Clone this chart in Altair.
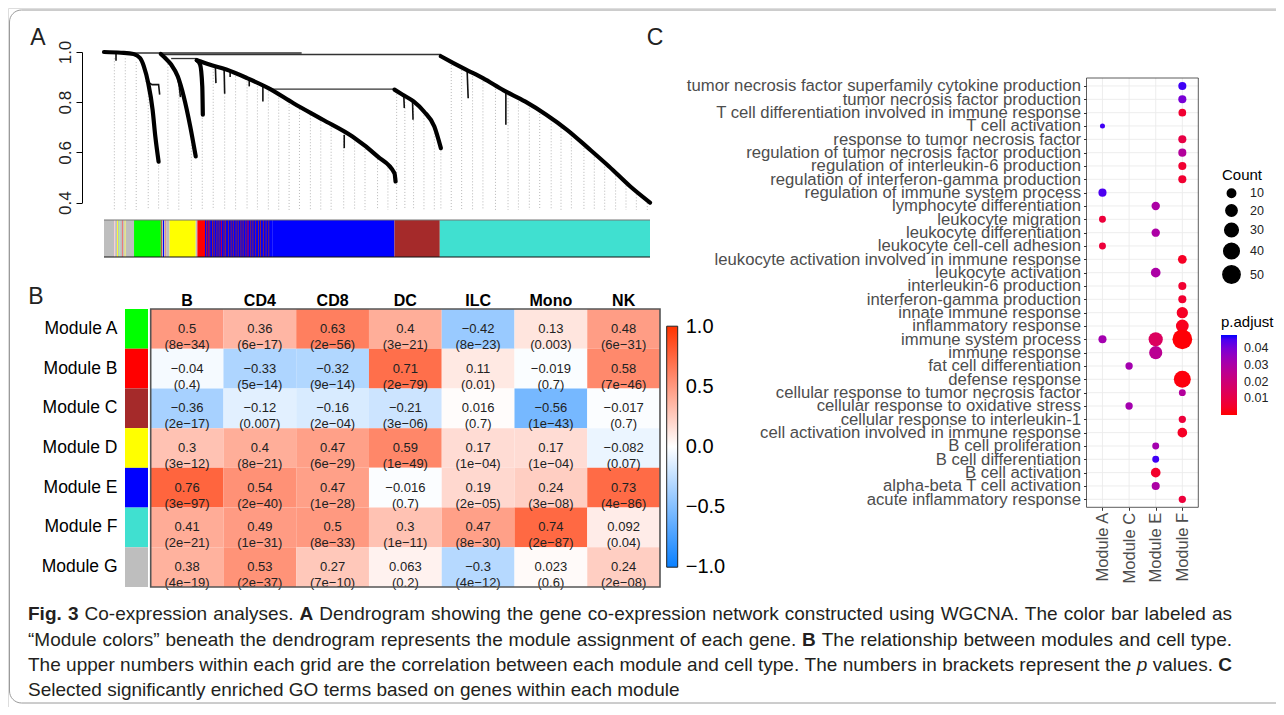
import altair as alt
import pandas as pd

OFF = 8
W, H = 1268, 699
FONT = "Liberation Sans"


def P(v):
    return v - OFF


# ---------------- Panel A: dendrogram (leaf order 0-1000, merge height) ----------------
c1_leaf = [0, 31, 54, 66, 73, 81, 89, 94, 100]
c1_h = [1.0, 0.997, 0.992, 0.976, 0.943, 0.876, 0.77, 0.663, 0.563]
c2_leaf = [104, 112, 123, 135, 146, 158, 168]
c2_h = [0.992, 0.976, 0.95, 0.903, 0.823, 0.703, 0.584]
c3_leaf = [170, 176, 180, 181]
c3_h = [0.967, 0.95, 0.863, 0.75]
c4_leaf = [170, 193, 224, 262, 301, 347, 401, 455, 501, 532, 534]
c4_h = [0.967, 0.95, 0.93, 0.896, 0.856, 0.796, 0.73, 0.663, 0.584, 0.517, 0.484]
c5_leaf = [532, 547, 567, 586, 605, 617]
c5_h = [0.85, 0.83, 0.803, 0.763, 0.703, 0.617]
c6_leaf = [617, 640, 663, 694, 732, 771, 810, 848, 887, 925, 964, 1000]
c6_h = [0.983, 0.956, 0.93, 0.896, 0.847, 0.803, 0.75, 0.69, 0.617, 0.544, 0.464, 0.4]

branch_id = ["b1"] * 4 + ["b2"] * 3 + ["b3"] * 2 + ["b4"] * 2 + ["b5"] * 2 + ["b6"] * 2 + \
    ["b7"] * 2 + ["b8"] * 2 + ["b9"] * 2 + ["b10"] * 2 + ["b11"] * 2 + ["b12"] * 2 + ["b13"] * 2
branch_leaf = [77, 88, 100, 102, 135, 138, 140, 204, 205, 220, 221, 231, 231, 266, 266,
               291, 291, 440, 440, 549, 550, 565, 566, 665, 667, 736, 736, 22, 22]
branch_h = [0.885, 0.87, 0.87, 0.83, 0.896, 0.86, 0.82, 0.943, 0.876, 0.932, 0.834, 0.927, 0.9,
            0.89, 0.863, 0.863, 0.803, 0.67, 0.617, 0.83, 0.777, 0.81, 0.73, 0.93, 0.816,
            0.847, 0.71, 0.997, 0.965]

merge_from = [40, 104, 123, 301, 617]
merge_to = [362, 617, 170, 532, 617]
merge_h = [0.996, 0.99, 0.974, 0.852, 0.99]
merge_h2 = [0.996, 0.99, 0.974, 0.852, 0.983]

drop_leaf = [19, 39, 59, 81, 100, 117, 137, 160, 180, 200, 221, 241, 262, 281, 301, 320, 339,
             358, 378, 397, 416, 439, 459, 478, 501, 520, 536, 551, 567, 586, 605, 617, 636,
             655, 675, 694, 717, 740, 759, 779, 798, 819, 837, 856, 879, 898, 917, 937, 956,
             975, 995]
drop_top = [0.975, 0.975, 0.96, 0.86, 0.56, 0.965, 0.89, 0.69, 0.75, 0.945, 0.93, 0.915, 0.895,
            0.875, 0.855, 0.83, 0.805, 0.785, 0.76, 0.735, 0.71, 0.68, 0.655, 0.625, 0.585,
            0.54, 0.845, 0.825, 0.8, 0.76, 0.7, 0.62, 0.96, 0.94, 0.915, 0.895, 0.865, 0.84,
            0.815, 0.79, 0.765, 0.74, 0.71, 0.68, 0.63, 0.595, 0.555, 0.52, 0.48, 0.445, 0.41]
drop_bottom = 0.371

bar_start = [0, 19, 20.5, 24, 25.5, 28, 29.5, 34, 35, 38, 39.5, 55, 104, 106, 108, 110, 113, 114,
             120, 168, 171, 185, 308, 532, 615]
bar_end = [19, 20.5, 24, 25.5, 28, 29.5, 34, 35, 38, 39.5, 55, 104, 106, 108, 110, 113, 114, 120,
           168, 171, 185, 308, 532, 615, 1000]
bar_color = ["#BEBEBE", "#FFC0CB", "#BEBEBE", "#FFFF00", "#BEBEBE", "#90EE90", "#BEBEBE",
             "#FF0000", "#BEBEBE", "#FFFF00", "#BEBEBE", "#00FF00", "#A52A2A", "#BEBEBE",
             "#0000FF", "#BEBEBE", "#FF0000", "#BEBEBE", "#FFFF00", "#BEBEBE", "#FF0000",
             "#0000FF", "#0000FF", "#A52A2A", "#40E0D0"]
stripe_start = [187, 190, 193, 198, 201, 206, 210, 214, 219, 222, 227, 232, 236, 241, 245, 250,
                254, 259, 263, 268, 272, 277, 282, 286, 291, 296, 301]
stripe_color = ["#A52A2A", "#FF0000", "#A52A2A", "#A52A2A", "#A52A2A", "#A52A2A", "#A52A2A",
                "#FF0000", "#A52A2A", "#A52A2A", "#A52A2A", "#A52A2A", "#A52A2A", "#A52A2A",
                "#A52A2A", "#A52A2A", "#A52A2A", "#A52A2A", "#FF0000", "#A52A2A", "#A52A2A",
                "#A52A2A", "#A52A2A", "#A52A2A", "#A52A2A", "#A52A2A", "#A52A2A"]
stripe_width = 1.6

# ---------------- Panel B: module / cell-type correlation ----------------
cell_types = ["B", "CD4", "CD8", "DC", "ILC", "Mono", "NK"]
modules = ["Module A", "Module B", "Module C", "Module D", "Module E", "Module F", "Module G"]
module_colors = ["#00FF00", "#FF0000", "#A52A2A", "#FFFF00", "#0000FF", "#40E0D0", "#BEBEBE"]
corr_A = [0.5, 0.36, 0.63, 0.4, -0.42, 0.13, 0.48]
corr_B = [-0.04, -0.33, -0.32, 0.71, 0.11, -0.019, 0.58]
corr_C = [-0.36, -0.12, -0.16, -0.21, 0.016, -0.56, -0.017]
corr_D = [0.3, 0.4, 0.47, 0.59, 0.17, 0.17, -0.082]
corr_E = [0.76, 0.54, 0.47, -0.016, 0.19, 0.24, 0.73]
corr_F = [0.41, 0.49, 0.5, 0.3, 0.47, 0.74, 0.092]
corr_G = [0.38, 0.53, 0.27, 0.063, -0.3, 0.023, 0.24]
p_A = ["8e-34", "6e-17", "2e-56", "3e-21", "8e-23", "0.003", "6e-31"]
p_B = ["0.4", "5e-14", "9e-14", "2e-79", "0.01", "0.7", "7e-46"]
p_C = ["2e-17", "0.007", "2e-04", "3e-06", "0.7", "1e-43", "0.7"]
p_D = ["3e-12", "8e-21", "6e-29", "1e-49", "1e-04", "1e-04", "0.07"]
p_E = ["3e-97", "2e-40", "1e-28", "0.7", "2e-05", "3e-08", "4e-86"]
p_F = ["2e-21", "1e-31", "8e-33", "1e-11", "8e-30", "2e-87", "0.04"]
p_G = ["4e-19", "2e-37", "7e-10", "0.2", "4e-12", "0.6", "2e-08"]
corr_rows = [corr_A, corr_B, corr_C, corr_D, corr_E, corr_F, corr_G]
p_rows = [p_A, p_B, p_C, p_D, p_E, p_F, p_G]

# ---------------- Panel C: GO enrichment ----------------
go_terms = [
    "tumor necrosis factor superfamily cytokine production",
    "tumor necrosis factor production",
    "T cell differentiation involved in immune response",
    "T cell activation",
    "response to tumor necrosis factor",
    "regulation of tumor necrosis factor production",
    "regulation of interleukin-6 production",
    "regulation of interferon-gamma production",
    "regulation of immune system process",
    "lymphocyte differentiation",
    "leukocyte migration",
    "leukocyte differentiation",
    "leukocyte cell-cell adhesion",
    "leukocyte activation involved in immune response",
    "leukocyte activation",
    "interleukin-6 production",
    "interferon-gamma production",
    "innate immune response",
    "inflammatory response",
    "immune system process",
    "immune response",
    "fat cell differentiation",
    "defense response",
    "cellular response to tumor necrosis factor",
    "cellular response to oxidative stress",
    "cellular response to interleukin-1",
    "cell activation involved in immune response",
    "B cell proliferation",
    "B cell differentiation",
    "B cell activation",
    "alpha-beta T cell activation",
    "acute inflammatory response",
]
go_modules = ["Module A", "Module C", "Module E", "Module F"]
dot_term = [0, 1, 2, 3, 4, 5, 6, 7, 8, 9, 10, 11, 12, 13, 14, 15, 16, 17, 18, 19, 19, 19, 20,
            21, 22, 23, 24, 25, 26, 27, 28, 29, 30, 31]
dot_module = ["Module F", "Module F", "Module F", "Module A", "Module F", "Module F", "Module F",
              "Module F", "Module A", "Module E", "Module A", "Module E", "Module A", "Module F",
              "Module E", "Module F", "Module F", "Module F", "Module F", "Module A", "Module E",
              "Module F", "Module E", "Module C", "Module F", "Module F", "Module C",
              "Module F", "Module F", "Module E", "Module E", "Module E", "Module E", "Module F"]
dot_count = [9, 9, 8, 2, 9, 9, 9, 9, 9, 10, 6, 10, 6, 11, 14, 9, 9, 20, 26, 9, 33, 66, 28, 7,
             48, 6, 7, 7, 14, 6, 6, 14, 9, 7]
dot_padj = [0.046, 0.040, 0.006, 0.046, 0.010, 0.028, 0.006, 0.006, 0.045, 0.030, 0.008, 0.030,
            0.008, 0.004, 0.030, 0.006, 0.006, 0.004, 0.003, 0.032, 0.015, 0.0005, 0.026,
            0.032, 0.001, 0.028, 0.032, 0.008, 0.004, 0.032, 0.046, 0.005, 0.030, 0.008]

# ---------------- caption (justified lines) ----------------
cap_lines = [
    [("Fig. 3", "bold"), ("Co-expression analyses.", "normal"), ("A", "bold"),
     ("Dendrogram showing the gene co-expression network constructed using WGCNA. The color bar labeled as", "normal")],
    [("\u201cModule colors\u201d beneath the dendrogram represents the module assignment of each gene.", "normal"),
     ("B", "bold"), ("The relationship between modules and cell type.", "normal")],
    [("The upper numbers within each grid are the correlation between each module and cell type. The numbers in brackets represent the", "normal"),
     ("p", "italic"), ("values.", "normal"), ("C", "bold")],
    [("Selected significantly enriched GO terms based on genes within each module", "normal")],
]
cap_justify = [True, True, True, False]

# ======================= layout (pixels) =======================
DEN_XR = [P(104), P(650)]
DEN_YR = [P(202.6), P(52)]
BAR_Y0, BAR_Y1 = P(220), P(257)
HM_XR = [P(150.7), P(660)]
HM_YR = [P(309), P(587)]
DOT_XR = [P(1086.5), P(1198.3)]
DOT_YR = [P(78), P(507.3)]
CAP_X0, CAP_X1 = 28, 1232
CAP_Y = [614, 640, 665, 690]
CAP_SIZE = 19

# Arial / Liberation Sans advance widths (per 1000 em) for the caption layout
_AW = {" ": 278, ".": 278, ",": 278, "-": 333, "(": 333, ")": 333, "\u201c": 333, "\u201d": 333,
       "0": 556, "1": 556, "2": 556, "3": 556, "4": 556, "5": 556, "6": 556, "7": 556, "8": 556, "9": 556,
       "A": 667, "B": 667, "C": 722, "D": 722, "E": 667, "F": 611, "G": 778, "H": 722, "I": 278,
       "J": 500, "K": 667, "L": 556, "M": 833, "N": 722, "O": 778, "P": 667, "Q": 778, "R": 722,
       "S": 667, "T": 611, "U": 722, "V": 667, "W": 944, "X": 667, "Y": 667, "Z": 611,
       "a": 556, "b": 556, "c": 500, "d": 556, "e": 556, "f": 278, "g": 556, "h": 556, "i": 222,
       "j": 222, "k": 500, "l": 222, "m": 833, "n": 556, "o": 556, "p": 556, "q": 556, "r": 333,
       "s": 500, "t": 278, "u": 556, "v": 500, "w": 722, "x": 500, "y": 500, "z": 500}
_AWB = {"F": 611, "i": 278, "g": 611, ".": 278, "3": 556, "A": 722, "B": 722, "C": 722}


def text_width(s, style):
    tab = _AWB if style == "bold" else _AW
    return sum(tab.get(ch, _AW.get(ch, 556)) for ch in s) / 1000.0 * CAP_SIZE


cap_rows = []
for li, segs in enumerate(cap_lines):
    words = []
    for txt, style in segs:
        for w in txt.split(" "):
            if w:
                words.append((w, style))
    widths = [text_width(w, s) for w, s in words]
    space = _AW[" "] / 1000.0 * CAP_SIZE
    if cap_justify[li] and len(words) > 1:
        gap = (CAP_X1 - CAP_X0 - sum(widths)) / (len(words) - 1)
    else:
        gap = space
    x = CAP_X0
    for (w, s), wd in zip(words, widths):
        cap_rows.append({"t": w, "s": s, "x": P(x), "y": P(CAP_Y[li])})
        x += wd + gap
cap = pd.DataFrame(cap_rows)


def den_x():
    return alt.Scale(domain=[0, 1000], range=DEN_XR)


def den_y():
    return alt.Scale(domain=[0.4, 1.0], range=DEN_YR)


def hm_x():
    return alt.Scale(domain=cell_types, range=HM_XR, paddingInner=0, paddingOuter=0)


def hm_y():
    return alt.Scale(domain=modules, range=HM_YR, paddingInner=0, paddingOuter=0)


def dot_x():
    return alt.Scale(type="point", domain=go_modules, range=DOT_XR, padding=0.6)


def dot_y():
    return alt.Scale(type="point", domain=go_terms, range=DOT_YR, padding=0.6)


one = pd.DataFrame({"k": [0]})
layers = []

# frame
layers.append(alt.Chart(one).mark_rect(fillOpacity=0, stroke="#9a9a9a", strokeWidth=1, cornerRadius=12).encode(
    x=alt.value(P(9.5)), x2=alt.value(P(1310)), y=alt.value(P(10)), y2=alt.value(P(703))))

# ---- Panel A layers
drops = pd.DataFrame({"leaf": drop_leaf, "top": drop_top, "bottom": [drop_bottom] * len(drop_leaf)})
layers.append(alt.Chart(drops).mark_rule(color="#9a9a9a", strokeWidth=0.7, strokeDash=[1, 2]).encode(
    x=alt.X("leaf:Q", scale=den_x(), axis=None),
    y=alt.Y("top:Q", scale=den_y(), axis=None),
    y2="bottom:Q"))

merges = pd.DataFrame({"a": merge_from, "b": merge_to, "h": merge_h, "h2": merge_h2})
layers.append(alt.Chart(merges).mark_rule(color="#333333", strokeWidth=1.3).encode(
    x=alt.X("a:Q", scale=den_x(), axis=None), x2="b:Q",
    y=alt.Y("h:Q", scale=den_y(), axis=None), y2="h2:Q"))

branches = pd.DataFrame({"id": branch_id, "leaf": branch_leaf, "h": branch_h,
                         "i": list(range(len(branch_id)))})
layers.append(alt.Chart(branches).mark_line(color="#111111", strokeWidth=1.6).encode(
    x=alt.X("leaf:Q", scale=den_x(), axis=None),
    y=alt.Y("h:Q", scale=den_y(), axis=None),
    detail="id:N", order="i:Q"))

cl_rows = []
for name, lx, hy in [("c1", c1_leaf, c1_h), ("c2", c2_leaf, c2_h), ("c3", c3_leaf, c3_h),
                     ("c4", c4_leaf, c4_h), ("c5", c5_leaf, c5_h), ("c6", c6_leaf, c6_h)]:
    for i, (a, b) in enumerate(zip(lx, hy)):
        cl_rows.append({"cl": name, "leaf": a, "h": b, "i": i})
curves = pd.DataFrame(cl_rows)
layers.append(alt.Chart(curves).mark_line(color="black", strokeWidth=4.2, strokeCap="round",
                                          strokeJoin="round", interpolate="monotone").encode(
    x=alt.X("leaf:Q", scale=den_x(), axis=None),
    y=alt.Y("h:Q", scale=den_y(), axis=alt.Axis(
        orient="left", offset=-P(82), values=[0.4, 0.6, 0.8, 1.0], format=".1f",
        labelAngle=270, labelAlign="center", labelBaseline="bottom", labelFontSize=17,
        labelFont=FONT, labelColor="#222222", labelPadding=2, tickSize=6, tickColor="black",
        domainColor="black", grid=False, title=None)),
    detail="cl:N", order="i:Q"))

bars = pd.DataFrame({"s": bar_start, "e": bar_end, "c": bar_color})
layers.append(alt.Chart(bars).mark_rect().encode(
    x=alt.X("s:Q", scale=den_x(), axis=None), x2="e:Q",
    y=alt.value(BAR_Y0), y2=alt.value(BAR_Y1),
    color=alt.Color("c:N", scale=None)))
stripes = pd.DataFrame({"s": stripe_start, "e": [v + stripe_width for v in stripe_start],
                        "c": stripe_color})
layers.append(alt.Chart(stripes).mark_rect().encode(
    x=alt.X("s:Q", scale=den_x(), axis=None), x2="e:Q",
    y=alt.value(BAR_Y0), y2=alt.value(BAR_Y1),
    color=alt.Color("c:N", scale=None)))
bar_edges = pd.DataFrame({"a": [0, 0], "b": [1000, 1000], "yy": [BAR_Y0, BAR_Y1],
                          "col": ["#777777", "#111111"]})
layers.append(alt.Chart(bar_edges).mark_rule(strokeWidth=1.2).encode(
    x=alt.X("a:Q", scale=den_x(), axis=None), x2="b:Q",
    y=alt.Y("yy:Q", scale=None), color=alt.Color("col:N", scale=None)))

# ---- Panel B layers
hm_rows = []
for mi, m in enumerate(modules):
    for ci, c in enumerate(cell_types):
        r = corr_rows[mi][ci]
        hm_rows.append({"module": m, "cell": c, "r": r,
                        "label": str(r).replace("-", "\u2212") + "\n(" + p_rows[mi][ci].replace("-", "\u2212") + ")"})
hm = pd.DataFrame(hm_rows)
layers.append(alt.Chart(hm).mark_rect().encode(
    x=alt.X("cell:N", scale=hm_x(), axis=alt.Axis(
        orient="top", offset=-P(309), ticks=False, tickSize=0, domain=False, grid=False,
        labelAngle=0, labelFontSize=16, labelFontWeight="bold", labelFont=FONT,
        labelColor="black", labelPadding=1, title=None)),
    y=alt.Y("module:N", scale=hm_y(), axis=None),
    color=alt.Color("r:Q", scale=alt.Scale(domain=[-1.004, 0, 1.004],
                                           range=["#0A80FF", "#FFFFFF", "#FF3300"],
                                           interpolate="rgb"),
                    legend=alt.Legend(orient="none", legendX=P(666.7), legendY=P(326.2), title=None,
                                      direction="vertical", gradientLength=241, gradientThickness=11,
                                      gradientStrokeColor="#222222", gradientStrokeWidth=1,
                                      values=[-1, -0.5, 0, 0.5, 1], format=".1f", labelFontSize=20,
                                      labelFont=FONT, labelColor="black", labelOffset=8,
                                      labelBaseline="middle", labelOverlap=False, padding=0))))
layers.append(alt.Chart(hm).mark_text(lineBreak="\n", lineHeight=16, fontSize=13, font=FONT,
                                      color="#222222", baseline="middle").encode(
    x=alt.X("cell:N", scale=hm_x(), axis=None),
    y=alt.Y("module:N", scale=hm_y(), axis=None),
    text="label:N"))
layers.append(alt.Chart(one).mark_rect(fillOpacity=0, stroke="#555555", strokeWidth=1.6).encode(
    x=alt.value(HM_XR[0]), x2=alt.value(HM_XR[1]), y=alt.value(HM_YR[0]), y2=alt.value(HM_YR[1])))
strip = pd.DataFrame({"module": modules, "c": module_colors})
layers.append(alt.Chart(strip).mark_rect().encode(
    x=alt.value(P(125)), x2=alt.value(P(148)),
    y=alt.Y("module:N", scale=hm_y(), axis=alt.Axis(
        orient="left", offset=-P(125), ticks=False, tickSize=0, domain=False, grid=False,
        labelFontSize=17.5, labelFont=FONT, labelColor="black", labelPadding=8, labelLimit=300,
        title=None)),
    color=alt.Color("c:N", scale=None)))

# ---- Panel C layers
layers.append(alt.Chart(pd.DataFrame({"m": go_modules})).mark_rule(color="#EBEBEB", strokeWidth=0.9).encode(
    x=alt.X("m:N", scale=dot_x(), axis=None), y=alt.value(DOT_YR[0]), y2=alt.value(DOT_YR[1])))
layers.append(alt.Chart(pd.DataFrame({"t": go_terms})).mark_rule(color="#EBEBEB", strokeWidth=0.9).encode(
    y=alt.Y("t:N", scale=dot_y(), axis=None), x=alt.value(DOT_XR[0]), x2=alt.value(DOT_XR[1])))
layers.append(alt.Chart(one).mark_rect(fillOpacity=0, stroke="#333333", strokeWidth=0.8).encode(
    x=alt.value(DOT_XR[0]), x2=alt.value(DOT_XR[1]), y=alt.value(DOT_YR[0]), y2=alt.value(DOT_YR[1])))
dots = pd.DataFrame({"term": [go_terms[i] for i in dot_term], "module": dot_module,
                     "count": dot_count, "padj": dot_padj})
layers.append(alt.Chart(dots).mark_circle(opacity=1).encode(
    x=alt.X("module:N", scale=dot_x(), axis=alt.Axis(
        orient="bottom", offset=DOT_YR[1] - H, labelAngle=270, labelAlign="right",
        labelBaseline="middle", tickSize=3, tickColor="#333333", domain=False, grid=False,
        labelFontSize=16.5, labelFont=FONT, labelColor="#4D4D4D", labelPadding=2,
        labelOverlap=False, title=None)),
    y=alt.Y("term:N", scale=dot_y(), axis=alt.Axis(
        orient="left", offset=-DOT_XR[0], tickSize=3, tickColor="#333333", domain=False,
        grid=False, labelFontSize=16.7, labelFont=FONT, labelColor="#4D4D4D", labelPadding=3,
        labelLimit=700, labelOverlap=False, title=None)),
    size=alt.Size("count:Q", scale=alt.Scale(domain=[0, 50], range=[14, 299]),
                  legend=alt.Legend(orient="none", legendX=P(1222), legendY=P(168), title="Count",
                                    titleFont=FONT, titleFontSize=15, titleFontWeight="normal",
                                    titleColor="black", titlePadding=4, values=[10, 20, 30, 40, 50],
                                    symbolFillColor="black", symbolStrokeColor="black",
                                    symbolOpacity=1, symbolType="circle", labelFontSize=12.5,
                                    labelFont=FONT, labelColor="#222222", labelOffset=9,
                                    rowPadding=0, padding=0)),
    color=alt.Color("padj:Q", scale=alt.Scale(domain=[0, 0.048], range=["#FF0000", "#0000FF"],
                                              interpolate="lab"),
                    legend=alt.Legend(orient="none", legendX=P(1221), legendY=P(315), title="p.adjust",
                                      titleFont=FONT, titleFontSize=15, titleFontWeight="normal",
                                      titleColor="black", titlePadding=5, direction="vertical",
                                      gradientLength=80, gradientThickness=16, gradientStrokeWidth=0,
                                      values=[0.01, 0.02, 0.03, 0.04], format=".2f",
                                      labelFontSize=12.5, labelFont=FONT, labelColor="#222222",
                                      labelOffset=7, labelBaseline="middle", labelOverlap=False,
                                      padding=0))))

# ---- panel letters
letters = pd.DataFrame({"t": ["A", "B", "C"], "x": [P(38), P(36), P(655)], "y": [P(38), P(297), P(38)]})
layers.append(alt.Chart(letters).mark_text(fontSize=23, font=FONT, color="#222222", align="center",
                                           baseline="middle").encode(
    x=alt.X("x:Q", scale=None), y=alt.Y("y:Q", scale=None), text="t:N"))

# ---- caption
for style, kw in [("normal", {}), ("bold", {"fontWeight": "bold"}), ("italic", {"fontStyle": "italic"})]:
    layers.append(alt.Chart(cap[cap.s == style]).mark_text(fontSize=CAP_SIZE, font=FONT, color="#231F20",
                                                           align="left", baseline="middle", **kw).encode(
        x=alt.X("x:Q", scale=None), y=alt.Y("y:Q", scale=None), text="t:N"))

chart = alt.layer(*layers).resolve_scale(
    x="independent", y="independent", color="independent", size="independent"
).properties(
    width=W, height=H, autosize=alt.AutoSizeParams(type="none"), padding=0
).configure_view(stroke="transparent").configure(background="white")

chart.save("out.html", embed_options={"renderer": "svg", "actions": False})
